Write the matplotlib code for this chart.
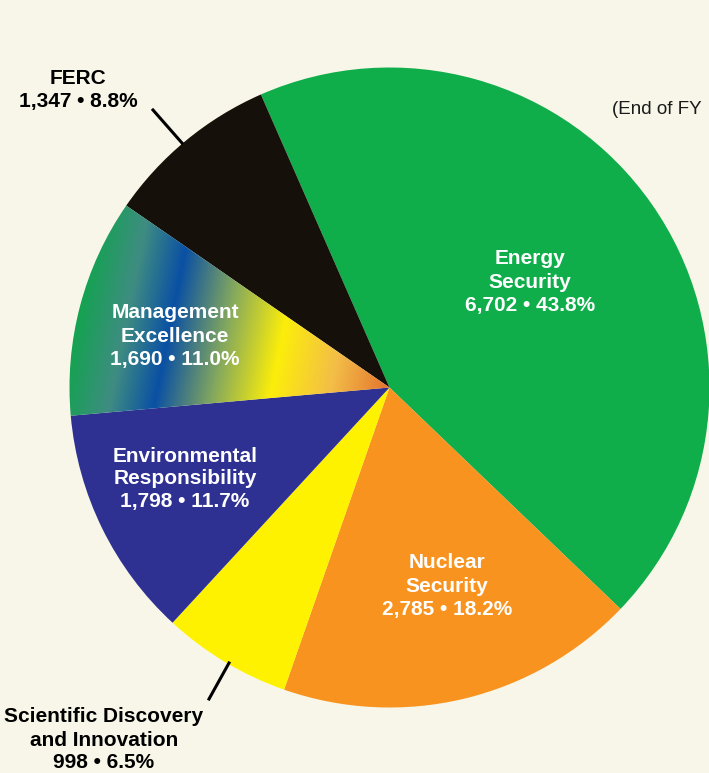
import numpy as np
import matplotlib
matplotlib.use("Agg")
import matplotlib.pyplot as plt
from matplotlib.colors import LinearSegmentedColormap

# ---- data ----
categories = ["Energy Security", "Nuclear Security", "Scientific Discovery and Innovation",
              "Environmental Responsibility", "Management Excellence", "FERC"]
values = [6702, 2785, 998, 1798, 1690, 1347]
percents = ["43.8%", "18.2%", "6.5%", "11.7%", "11.0%", "8.8%"]
label_lines = [["Energy", "Security"], ["Nuclear", "Security"],
               ["Scientific Discovery", "and Innovation"],
               ["Environmental", "Responsibility"], ["Management", "Excellence"], ["FERC"]]
colors = ["#0fae4b", "#f7931e", "#fff200", "#2e3192", "#808080", "#15100a"]

W, H = 709, 773
BG = "#f8f6e8"
fig = plt.figure(figsize=(W / 100, H / 100), dpi=100, facecolor=BG)
ax = fig.add_axes([0, 0, 1, 1])
ax.set_facecolor(BG)

cx, cy_img, R = 389.5, 387.5, 320
cy = H - cy_img

wedges, _ = ax.pie(values, colors=colors, startangle=113.7, counterclock=False,
                   center=(cx, cy), radius=R, wedgeprops=dict(linewidth=0))
ax.set_xlim(0, W)
ax.set_ylim(0, H)
ax.set_aspect("equal")
ax.axis("off")

# gradient fill for Management Excellence
mg = wedges[4]
mg.set_facecolor("none")
stops = [(138, "#12a44e"), (190, "#3f8c82"), (235, "#0a50a4"), (292, "#84a85e"),
         (350, "#fcee0a"), (410, "#f3bd48"), (470, "#e2702c")]
u0, u1 = stops[0][0], stops[-1][0]
cmap = LinearSegmentedColormap.from_list(
    "mg", [((u - u0) / (u1 - u0), c) for u, c in stops])
xs = np.linspace(60, 400, 400)
ys_img = np.linspace(180, 440, 300)
X, Y = np.meshgrid(xs, ys_img)
U = X + 0.2 * Y
im = ax.imshow(U, cmap=cmap, vmin=u0, vmax=u1, origin="upper",
               extent=(60, 400, H - 440, H - 180), zorder=1.5, interpolation="bilinear")
im.set_clip_path(mg)
ax.set_xlim(0, W)
ax.set_ylim(0, H)

FONT = "Liberation Sans"
fs = 15
ls = 23


def block(x, y_img, lines, color, size=fs):
    for i, t in enumerate(lines):
        ax.text(x, H - (y_img + i * ls), t, ha="center", va="center", color=color,
                fontsize=size, fontweight="bold", family=FONT, zorder=5)


def nums(i):
    return f"{values[i]:,} \u2022 {percents[i]}"


block(530, 259, label_lines[0] + [nums(0)], "white")
block(447, 563, label_lines[1] + [nums(1)], "white")
block(185, 456, label_lines[3] + [nums(3)], "white")
block(175, 313, label_lines[4] + [nums(4)], "white")
block(78, 79, label_lines[5] + [nums(5)], "black")
block(104, 717, label_lines[2] + [nums(2)], "black")

# leader lines
ax.plot([153, 182], [H - 110, H - 143], color="black", lw=2.2, zorder=5)
ax.plot([209, 229], [H - 699, H - 663], color="black", lw=2.2, zorder=5)

ax.text(612, H - 110, "(End of FY", ha="left", va="center", color="#1a1a1a",
        fontsize=13.5, family=FONT, zorder=5)

fig.savefig("out.png", dpi=100, facecolor=BG)
